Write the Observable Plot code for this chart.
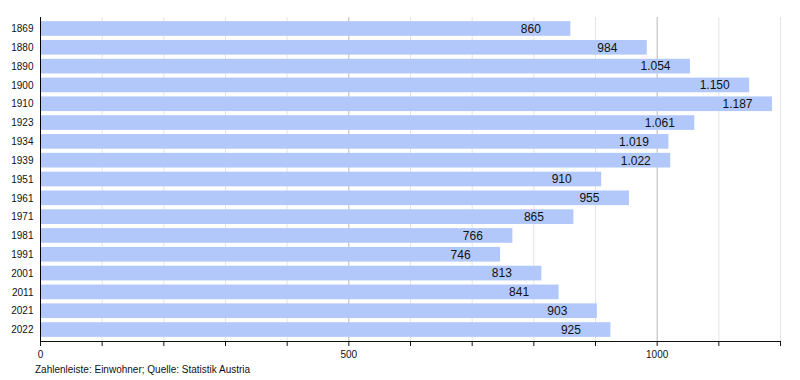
<!DOCTYPE html>
<html>
<head>
<meta charset="utf-8">
<script src="https://cdn.jsdelivr.net/npm/d3@7"></script>
<script src="https://cdn.jsdelivr.net/npm/@observablehq/plot@0.6"></script>
<style>
  html, body { margin: 0; padding: 0; background: #fff; }
  body { width: 800px; height: 380px; overflow: hidden; font-family: "Liberation Sans", Arial, sans-serif; }
  #caption { font-size: 10px; color: #111; padding-left: 35px; margin-top: 2px; line-height: 12px; }
</style>
</head>
<body>
<div id="chart"></div>
<div id="caption">Zahlenleiste: Einwohner; Quelle: Statistik Austria</div>
<script>
const years = ["1869","1880","1890","1900","1910","1923","1934","1939","1951","1961","1971","1981","1991","2001","2011","2021","2022"];
const population = [860, 984, 1054, 1150, 1187, 1061, 1019, 1022, 910, 955, 865, 766, 746, 813, 841, 903, 925];
const xTicks = [0, 100, 200, 300, 400, 500, 600, 700, 800, 900, 1000, 1100, 1200];
const xLabeledTicks = [0, 500, 1000];

const data = years.map((y, i) => ({year: y, value: population[i]}));
const de = d3.formatLocale({decimal: ",", thousands: ".", grouping: [3], currency: ["", " €"]});
const fmt = de.format(",d");

const chart = Plot.plot({
  width: 800,
  height: 362,
  marginLeft: 40,
  marginRight: 20,
  marginTop: 17,
  marginBottom: 21,
  style: {fontFamily: "Liberation Sans, Arial, sans-serif", fontSize: "10px", color: "#111", background: "#fff"},
  x: {domain: [0, 1200], ticks: xTicks, tickFormat: d => xLabeledTicks.includes(d) ? String(d) : "", line: true, label: null, tickSize: 5, tickPadding: 4},
  y: {domain: years, paddingInner: 0.22, paddingOuter: 0.22, round: false, label: null, tickSize: 0, tickPadding: 7},
  marks: [
    Plot.ruleX(xTicks.filter(d => !xLabeledTicks.includes(d)), {stroke: "#e4e4e4", strokeWidth: 1}),
    Plot.ruleX(xLabeledTicks.filter(d => d > 0), {stroke: "#b8b8b8", strokeWidth: 1}),
    Plot.barX(data, {x: "value", y: "year", fill: "#b3c8fa"}),
    Plot.text(data, {x: "value", y: "year", text: d => fmt(d.value), textAnchor: "start", dx: -50, fontSize: 12, fill: "#111"}),
    Plot.ruleX([0], {stroke: "#000", strokeWidth: 1})
  ]
});
document.getElementById("chart").appendChild(chart);
</script>
</body>
</html>
